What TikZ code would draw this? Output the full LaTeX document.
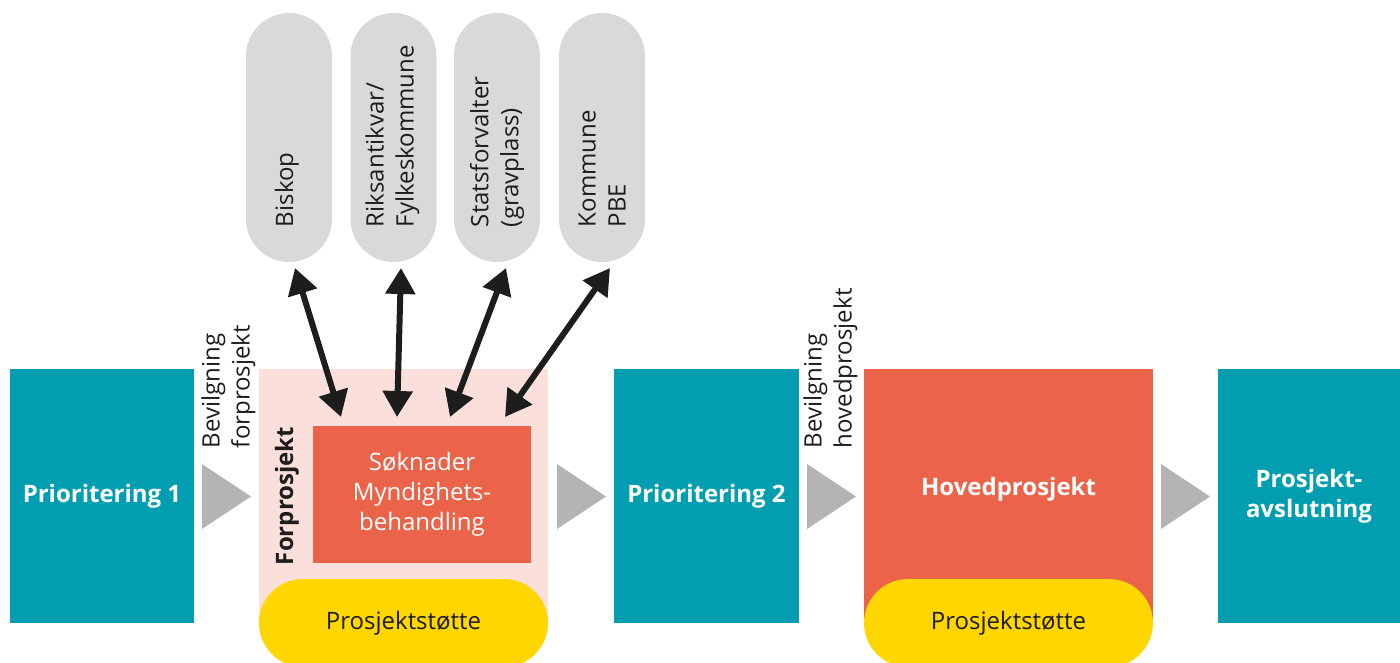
\documentclass[tikz,border=0pt]{standalone}
\usepackage{fontspec}
\setmainfont{Open Sans}
\usetikzlibrary{arrows.meta,calc}
\definecolor{tealc}{HTML}{009EB0}
\definecolor{coral}{HTML}{EB6449}
\definecolor{pinkbg}{HTML}{FBDFDB}
\definecolor{yel}{HTML}{FFD600}
\definecolor{pillgrey}{HTML}{D9D9D9}
\definecolor{trigrey}{HTML}{B4B4B4}
\definecolor{ink}{HTML}{1D1D1B}
\begin{document}
\begin{tikzpicture}[x=1pt,y=-1pt,
  font=\fontsize{24}{30}\selectfont,
  every node/.style={inner sep=0pt, outer sep=0pt},
  tealbox/.style={fill=tealc, text=white, font=\fontsize{24}{30}\selectfont\bfseries, align=center, minimum height=254pt},
  redbox/.style={fill=coral, text=white, align=center},
  pinkbox/.style={fill=pinkbg, minimum width=289pt, minimum height=254pt},
  authpill/.style={fill=pillgrey, rounded corners=43pt, minimum width=86pt, minimum height=249pt},
  suppill/.style={fill=yel, rounded corners=44pt, minimum width=289pt, minimum height=88pt, text=ink},
  tri/.style={fill=trigrey},
  vlabel/.style={rotate=90, anchor=west, align=left, text=ink},
  arr/.style={line width=6pt, draw=ink, {Triangle[length=26pt,width=29pt]}-{Triangle[length=26pt,width=29pt]}}
]
\useasboundingbox (0,0) rectangle (1400,662);

% step 1
\node[tealbox, minimum width=184pt] (p1) at (102,496) {Prioritering 1};
\fill[tri] (202,464) -- (251,496.5) -- (202,529) -- cycle;
\node[vlabel] (bev1) at (228.5,448) {Bevilgning\\forprosjekt};

% forprosjekt
\node[pinkbox] (fp) at (403.5,496) {};
\node[redbox, minimum width=218pt, minimum height=137pt] (sok) at (422,494.5) {Søknader\\Myndighets-\\behandling};
\node[rotate=90, font=\fontsize{24}{30}\selectfont\bfseries, text=ink] (fplbl) at (287,496) {Forprosjekt};
\node[suppill] (ps1) at (403.5,623) {Prosjektstøtte};

% authorities
\node[authpill] (b1) at (289,137.5) {};
\node[authpill] (b2) at (393.5,137.5) {};
\node[authpill] (b3) at (497,137.5) {};
\node[authpill] (b4) at (602,137.5) {};
\node[vlabel] (b1t) at ($(b1.south)+(-2,-35)$) {Biskop};
\node[vlabel] (b2t) at ($(b2.south)+(-1,-35)$) {Riksantikvar/\\Fylkeskommune};
\node[vlabel] (b3t) at ($(b3.south)+(0,-35)$) {Statsforvalter\\(gravplass)};
\node[vlabel] (b4t) at ($(b4.south)+(0,-35)$) {Kommune\\PBE};

\draw[arr] ($(b1.south)+(6,6)$) -- ($(sok.north)+(-81,-9)$);
\draw[arr] ($(b2.south)+(7.5,6)$) -- ($(sok.north)+(-25,-9)$);
\draw[arr] ($(b3.south)+(9,6)$) -- ($(sok.north)+(28,-9)$);
\draw[arr] ($(b4.south)+(8,6)$) -- ($(sok.north)+(83,-9)$);

% step 2
\fill[tri] (557,464) -- (606,496.5) -- (557,529) -- cycle;
\node[tealbox, minimum width=185pt] (p2) at (706.5,496) {Prioritering 2};
\fill[tri] (807,464) -- (856,496.5) -- (807,529) -- cycle;
\node[vlabel] (bev2) at (830.5,448) {Bevilgning\\hovedprosjekt};

% hovedprosjekt
\node[redbox, minimum width=289pt, minimum height=254pt] (hp) at (1008.5,496) {};
\node[text=white, font=\fontsize{24}{30}\selectfont\bfseries] (hplbl) at (1008.5,489) {Hovedprosjekt};
\node[suppill] (ps2) at (1008.5,623) {Prosjektstøtte};

% avslutning
\fill[tri] (1161,464) -- (1210,496.5) -- (1161,529) -- cycle;
\node[tealbox, minimum width=182pt] (p3) at (1309,496) {Prosjekt-\\avslutning};
\end{tikzpicture}
\end{document}
